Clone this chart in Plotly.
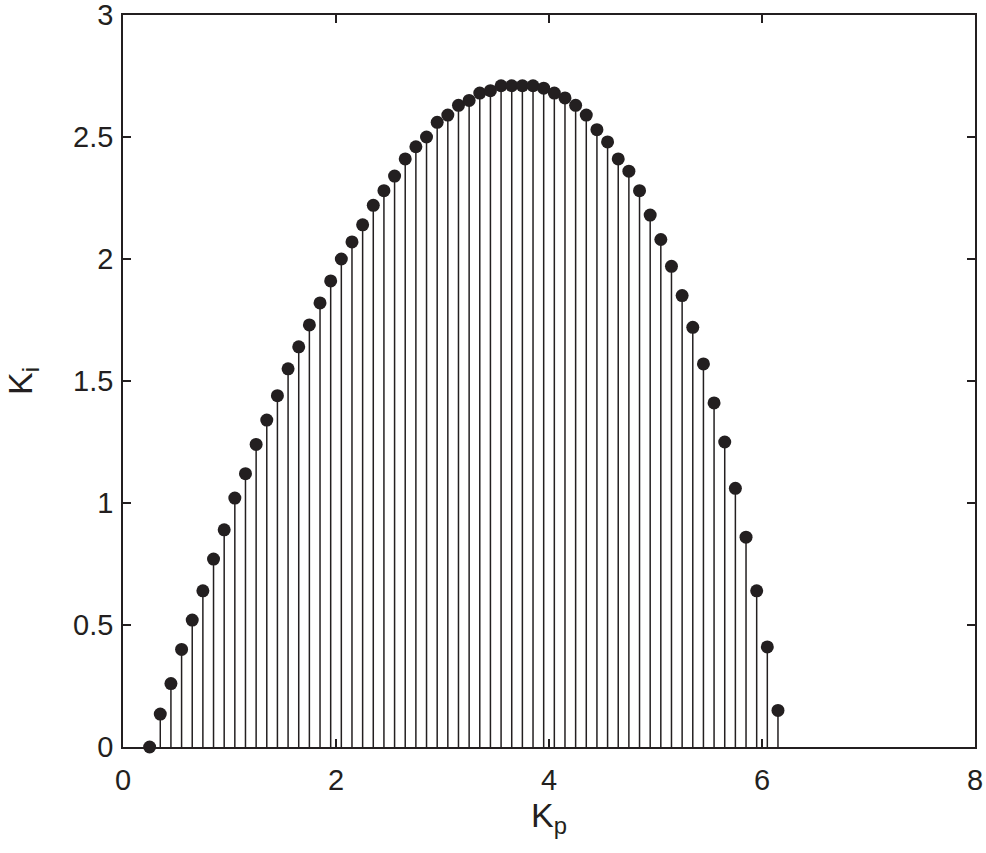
import plotly.graph_objects as go

# Stem plot: stability region boundary, Ki versus Kp
kp = [0.25, 0.35, 0.45, 0.55, 0.65, 0.75, 0.85, 0.95, 1.05, 1.15,
      1.25, 1.35, 1.45, 1.55, 1.65, 1.75, 1.85, 1.95, 2.05, 2.15,
      2.25, 2.35, 2.45, 2.55, 2.65, 2.75, 2.85, 2.95, 3.05, 3.15,
      3.25, 3.35, 3.45, 3.55, 3.65, 3.75, 3.85, 3.95, 4.05, 4.15,
      4.25, 4.35, 4.45, 4.55, 4.65, 4.75, 4.85, 4.95, 5.05, 5.15,
      5.25, 5.35, 5.45, 5.55, 5.65, 5.75, 5.85, 5.95, 6.05, 6.15]
ki = [0.00, 0.135, 0.26, 0.40, 0.52, 0.64, 0.77, 0.89, 1.02, 1.12,
      1.24, 1.34, 1.44, 1.55, 1.64, 1.73, 1.82, 1.91, 2.00, 2.07,
      2.14, 2.22, 2.28, 2.34, 2.41, 2.46, 2.50, 2.56, 2.59, 2.63,
      2.65, 2.68, 2.69, 2.71, 2.71, 2.71, 2.71, 2.70, 2.68, 2.66,
      2.63, 2.59, 2.53, 2.48, 2.41, 2.36, 2.28, 2.18, 2.08, 1.97,
      1.85, 1.72, 1.57, 1.41, 1.25, 1.06, 0.86, 0.64, 0.41, 0.15]

x_ticks = [0, 2, 4, 6, 8]
y_ticks = [0, 0.5, 1, 1.5, 2, 2.5, 3]

INK = "#231f20"
FONT = "Liberation Sans, Arial, sans-serif"

fig = go.Figure()

# stems drawn as one-sided error bars down to zero
fig.add_trace(go.Scatter(
    x=kp, y=ki,
    mode="markers",
    marker=dict(size=13, color=INK),
    error_y=dict(type="data", symmetric=False, array=[0] * len(ki),
                 arrayminus=ki, width=0, thickness=1.5, color=INK),
    showlegend=False,
    cliponaxis=False,
))

axis_common = dict(
    showline=True, linecolor=INK, linewidth=1.5, mirror="ticks",
    ticks="inside", ticklen=8, tickwidth=1.5, tickcolor=INK,
    showgrid=False, zeroline=False, automargin=False,
    ticklabeloverflow="allow",
    tickfont=dict(family=FONT, size=29, color=INK),
)

fig.update_layout(
    width=986, height=853,
    margin=dict(l=123, r=11, t=15, b=106),
    plot_bgcolor="white",
    paper_bgcolor="white",
    xaxis=dict(range=[0, 8], tickvals=x_ticks, ticktext=[str(v) for v in x_ticks],
               ticklabelstandoff=6,
               title=dict(text="K<sub>p</sub>", font=dict(family=FONT, size=34, color=INK),
                          standoff=4),
               **axis_common),
    yaxis=dict(range=[0, 3], tickvals=y_ticks, ticktext=[f"{v:g}" for v in y_ticks],
               ticklabelstandoff=2,
               title=dict(text="K<sub>i</sub>", font=dict(family=FONT, size=34, color=INK),
                          standoff=30),
               **axis_common),
)

# drop the default 8px body margin so the figure fills the window exactly
fig.write_html("out.html", config={"displayModeBar": False},
               post_script="document.body.style.margin='0';")
